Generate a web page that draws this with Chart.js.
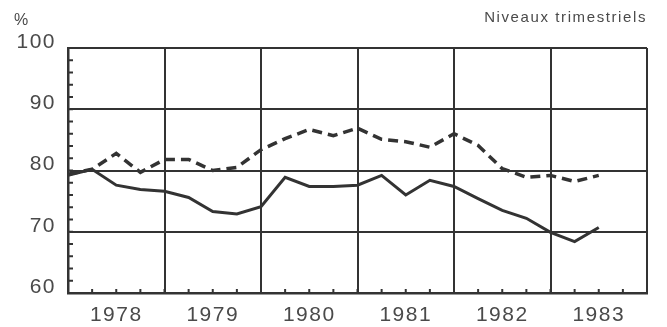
<!DOCTYPE html>
<html>
<head>
<meta charset="utf-8">
<style>
  html, body { margin: 0; padding: 0; background: #fff; }
  #wrap { width: 667px; height: 327px; position: relative; }
</style>
<script src="https://cdn.jsdelivr.net/npm/chart.js@4/dist/chart.umd.min.js"></script>
</head>
<body>
<div id="wrap"><canvas id="chart"></canvas></div>
<script>
// quarters counted from start of 1978 (0 = 1978 Q1)
const quarters = [0, 1, 2, 3, 4, 5, 6, 7, 8, 9, 10, 11, 12, 13, 14, 15, 16, 17, 18, 19, 20, 21, 22];
const years = ["1978", "1979", "1980", "1981", "1982", "1983"];
const yTicks = [60, 70, 80, 90, 100];

// solid line
const serieA = [79.2, 80.2, 77.6, 76.9, 76.6, 75.6, 73.3, 72.9, 74.1, 78.9, 77.4, 77.4,
                77.6, 79.2, 76.0, 78.4, 77.4, 75.4, 73.5, 72.2, 69.9, 68.4, 70.7];
// dashed line
const serieB = [79.4, 80.2, 82.8, 79.7, 81.8, 81.8, 80.0, 80.5, 83.4, 85.2, 86.7, 85.7,
                86.9, 85.1, 84.7, 83.8, 86.0, 84.1, 80.3, 78.9, 79.2, 78.2, 79.2];

const ink = "#333333";
const texte = "#4a4a4a";
const police = "'Liberation Sans', Arial, sans-serif";

const toPoints = vals => vals.map((v, i) => ({ x: quarters[i], y: v }));

const marques = {
  id: "marques",
  beforeDraw(chart) {
    chart.ctx.letterSpacing = "1.5px";
  },
  afterDraw(chart) {
    const ctx = chart.ctx;
    const xs = chart.scales.x, ys = chart.scales.y;
    const a = chart.chartArea;
    ctx.save();
    ctx.strokeStyle = ink;
    ctx.lineWidth = 2;
    // petites graduations sur l'axe vertical (vers l'interieur)
    for (let v = 60; v <= 100; v += 2) {
      const y = ys.getPixelForValue(v);
      ctx.beginPath();
      ctx.moveTo(a.left, y);
      ctx.lineTo(a.left + 5, y);
      ctx.stroke();
    }
    // graduations trimestrielles sur l'axe horizontal
    for (let q = 0; q <= 24; q++) {
      const x = xs.getPixelForValue(q);
      ctx.beginPath();
      ctx.moveTo(x, a.bottom);
      ctx.lineTo(x, a.bottom - 4);
      ctx.stroke();
    }
    ctx.fillStyle = texte;
    ctx.textBaseline = "middle";
    ctx.font = "16px " + police;
    ctx.letterSpacing = "0px";
    ctx.textAlign = "left";
    ctx.fillText("%", 14, 21);
    ctx.font = "15px " + police;
    ctx.letterSpacing = "1.6px";
    ctx.textAlign = "right";
    ctx.fillText("Niveaux trimestriels", 647, 18);
    ctx.restore();
  }
};

new Chart(document.getElementById("chart"), {
  type: "line",
  data: {
    datasets: [
      {
        data: toPoints(serieA),
        borderColor: ink,
        borderWidth: 3,
        pointRadius: 0,
        tension: 0
      },
      {
        data: toPoints(serieB),
        borderColor: ink,
        borderWidth: 3.5,
        borderDash: [10, 6],
        pointRadius: 0,
        tension: 0
      }
    ]
  },
  options: {
    responsive: true,
    maintainAspectRatio: false,
    animation: false,
    layout: { padding: { top: 48, right: 20, left: 0, bottom: 0 } },
    plugins: { legend: { display: false }, tooltip: { enabled: false } },
    scales: {
      x: {
        type: "linear",
        min: 0,
        max: 24,
        afterFit: s => { s.height = 34; },
        ticks: {
          stepSize: 1,
          autoSkip: false,
          maxRotation: 0,
          padding: 10,
          color: texte,
          font: { family: police, size: 21 },
          callback: v => (v % 4 === 2 ? years[(v - 2) / 4] : "")
        },
        grid: {
          drawTicks: false,
          lineWidth: 2,
          color: c => (c.tick && c.tick.value % 4 === 0 ? ink : "transparent")
        },
        border: { color: ink, width: 2.5 }
      },
      y: {
        min: 60,
        max: 100,
        afterFit: s => { s.width = 68; },
        ticks: {
          stepSize: 2,
          autoSkip: false,
          padding: 12,
          labelOffset: -6,
          color: texte,
          font: { family: police, size: 21 },
          callback: v => (yTicks.includes(v) ? String(v) : "")
        },
        grid: {
          drawTicks: false,
          lineWidth: 2,
          color: c => (c.tick && c.tick.value % 10 === 0 ? ink : "transparent")
        },
        border: { color: ink, width: 2.5 }
      }
    }
  },
  plugins: [marques]
});
</script>
</body>
</html>
